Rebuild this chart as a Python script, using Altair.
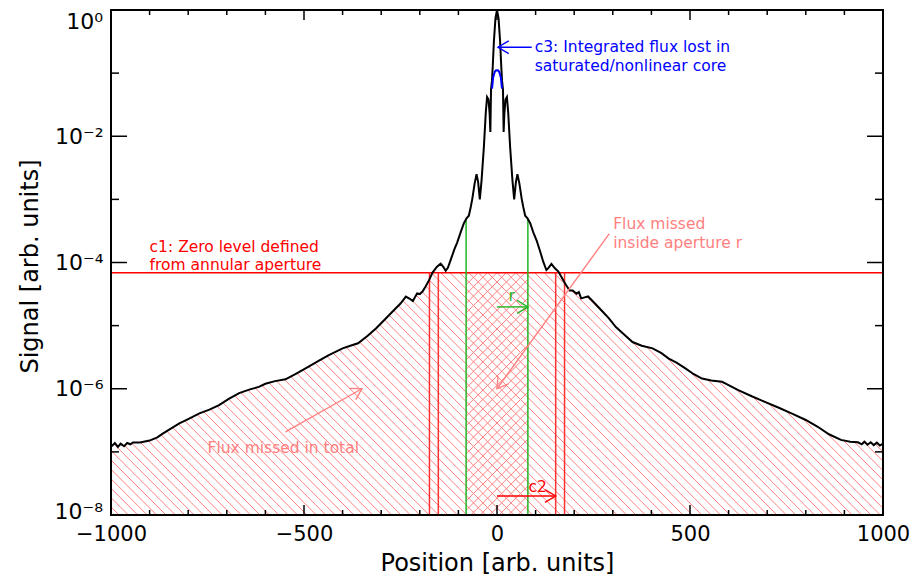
import math
import pandas as pd
import altair as alt

# ---------------- data ----------------
pos = [-1000, -990, -982, -975, -966, -958, -950, -943, -925, -900, -880, -866, -845, -823,
       -800, -771, -745, -720, -695, -668, -640, -617, -600, -575, -548, -520, -488, -460,
       -437, -400, -380, -360, -335, -313, -290, -266, -250, -236, -227, -218, -207, -200,
       -193, -185, -176, -167, -156, -146, -139, -133, -127, -120, -111, -103, -94, -86,
       -79, -73, -68, -64, -58, -53, -49, -44.5, -40, -34, -29, -25.7, -22, -19, -17.2,
       -15.5, -13, -11, -8, -4, 0,
       4, 8, 11, 13, 15.5, 17.2, 19, 22, 25.7, 29, 34, 40, 44.5, 49, 53, 58, 64, 68, 73,
       79, 86, 94, 103, 111, 120, 128, 134, 141, 150, 159, 167, 176, 188, 196, 206, 212,
       218, 227, 236, 255, 274, 290, 308, 330, 351, 375, 403, 425, 445, 465, 488, 510, 531,
       555, 583, 605, 625, 660, 694, 730, 763, 800, 831, 860, 891, 915, 935, 945, 952, 960,
       968, 976, 984, 992, 1000]
signal = [1.20e-7, 1.38e-7, 1.20e-7, 1.35e-7, 1.23e-7, 1.38e-7, 1.32e-7, 1.41e-7, 1.41e-7,
          1.51e-7, 1.70e-7, 1.95e-7, 2.34e-7, 2.82e-7, 3.31e-7, 4.07e-7, 4.68e-7, 5.50e-7,
          6.92e-7, 8.51e-7, 9.77e-7, 1.07e-6, 1.20e-6, 1.32e-6, 1.41e-6, 1.74e-6, 2.24e-6,
          2.82e-6, 3.39e-6, 4.37e-6, 4.79e-6, 5.25e-6, 6.92e-6, 9.12e-6, 1.26e-5, 1.78e-5,
          2.24e-5, 2.88e-5, 2.69e-5, 2.45e-5, 3.24e-5, 3.16e-5, 3.47e-5, 4.17e-5, 5.25e-5,
          6.92e-5, 8.51e-5, 9.55e-5, 8.51e-5, 7.41e-5, 8.32e-5, 1.10e-4, 1.58e-4, 2.09e-4,
          3.02e-4, 4.17e-4, 5.01e-4, 5.50e-4, 7.59e-4, 1.02e-3, 1.78e-3, 2.51e-3, 1.91e-3,
          1.00e-3, 2.00e-3, 6.76e-3, 2.40e-2, 4.17e-2, 3.80e-2, 2.24e-2, 1.17e-2,
          5.5e-2, 7.6e-2, 0.13, 0.32, 0.74, 1.0,
          0.74, 0.32, 0.13, 7.6e-2, 5.5e-2, 1.17e-2, 2.24e-2, 3.80e-2, 4.17e-2, 2.40e-2,
          6.76e-3, 2.0e-3, 1.0e-3, 1.9e-3, 2.5e-3, 1.78e-3, 1.02e-3, 7.6e-4, 5.5e-4,
          5.0e-4, 4.2e-4, 3.0e-4, 2.2e-4, 1.55e-4, 1.02e-4, 7.6e-5, 8.3e-5, 9.5e-5, 8.1e-5,
          7.2e-5, 5.9e-5, 4.7e-5, 3.6e-5, 3.6e-5, 3.2e-5, 3.4e-5, 2.7e-5, 2.8e-5, 2.9e-5,
          2.2e-5, 1.66e-5, 1.3e-5, 9.5e-6, 7.2e-6, 5.5e-6, 4.8e-6, 4.37e-6, 3.7e-6, 3.0e-6,
          2.6e-6, 2.1e-6, 1.7e-6, 1.45e-6, 1.35e-6, 1.29e-6, 1.1e-6, 9.5e-7, 7.6e-7, 6.2e-7,
          5.0e-7, 4.07e-7, 3.2e-7, 2.5e-7, 1.9e-7, 1.55e-7, 1.45e-7, 1.42e-7, 1.32e-7,
          1.45e-7, 1.30e-7, 1.42e-7, 1.28e-7, 1.40e-7, 1.26e-7, 1.35e-7]
assert len(pos) == len(signal)

core_pos = [-12.9, -10, -6, -3, 0, 3, 6, 10, 12.9]
core_signal = [0.057, 0.085, 0.104, 0.110, 0.111, 0.110, 0.104, 0.085, 0.057]

zero_level = 6.9e-5            # c1
c2_edges = [-175, -152, 152, 175]
aperture_edges = [-80, 80]     # r
aperture_top = 5.0e-4

x_label_values = [-1000, -500, 0, 500, 1000]
x_ticks_major = [-500, 0, 500]
x_ticks_minor = [-900, -800, -700, -600, -400, -300, -200, -100,
                 100, 200, 300, 400, 600, 700, 800, 900]
y_label_values = [1e-2, 1e-4, 1e-6]
y_label_texts = ["10⁻²", "10⁻⁴", "10⁻⁶"]
y_edge_values = [1.0, 1e-8]
y_edge_texts = ["10⁰", "10⁻⁸"]
y_edge_shift = [12, -3]
y_ticks_major = [1e-2, 1e-4, 1e-6]
y_ticks_minor = [1e-1, 1e-3, 1e-5, 1e-7]

ann_text = ["c1: Zero level defined", "from annular aperture",
            "c3: Integrated flux lost in", "saturated/nonlinear core",
            "Flux missed", "inside aperture r", "Flux missed in total", "r", "c2"]
ann_x = [-900, -900, 97.7, 97.7, 301, 301, -750, 30, 81.5]
ann_y = [1.79e-4, 9.29e-5, 0.2547, 0.132, 4.0e-4, 2.07e-4, 1.17e-7, 3.0e-5, 2.8e-8]
ann_color = ["#FF0000", "#FF0000", "#0000FF", "#0000FF", "#FF8080", "#FF8080",
             "#FF8080", "#22B422", "#FF0000"]

arr_x1 = [90, 0, 0, 291, -548]
arr_y1 = [0.257, 1.98e-5, 2.0e-8, 2.87e-4, 2.08e-7]
arr_x2 = [2.6, 80, 152, 0, -350]
arr_y2 = [0.257, 1.98e-5, 2.0e-8, 1.0e-6, 1.0e-6]
arr_color = ["#0000FF", "#22B422", "#FF0000", "#FF8080", "#FF8080"]

# ---------------- geometry helpers (plot area in px) ----------------
W, H = 772, 505
XMIN, XMAX = -1000, 1000
LMIN, LMAX = -8.0, 0.0
FONT = "DejaVu Sans"


def to_data(px, py):
    return XMIN + px / W * (XMAX - XMIN), 10 ** (LMAX - py / H * (LMAX - LMIN))


def to_px(x, y):
    return (x - XMIN) / (XMAX - XMIN) * W, (LMAX - math.log10(y)) / (LMAX - LMIN) * H


# hatch pattern (decorative fill), clipped to the region below the zero level
SP = 9.4
_, py_c1 = to_px(0, zero_level)
hatch = []
c = -W
while c < H:
    lo, hi = max(0.0, py_c1 - c), min(float(W), H - c)
    if hi - lo > 0.5:
        xa, ya = to_data(lo, lo + c)
        xb, yb = to_data(hi, hi + c)
        hatch.append((xa, ya, xb, yb))
    c += SP
pxl, _ = to_px(aperture_edges[0], 1)
pxr, _ = to_px(aperture_edges[1], 1)
c = 0.0
while c < W + H:
    lo, hi = max(pxl, c - H), min(pxr, c - py_c1)
    if hi - lo > 0.5:
        xa, ya = to_data(lo, c - lo)
        xb, yb = to_data(hi, c - hi)
        hatch.append((xa, ya, xb, yb))
    c += SP
df_hatch = pd.DataFrame(hatch, columns=["x", "y", "x2", "y2"])

df_curve = pd.DataFrame({"x": pos, "y": signal, "top": [1.0] * len(pos)})
df_core = pd.DataFrame({"x": core_pos, "y": core_signal})

xs = alt.Scale(domain=[XMIN, XMAX], nice=False, zero=False)
ys = alt.Scale(type="log", domain=[1e-8, 1], nice=False)

AX = alt.Axis(values=x_label_values, format="d", labelFlush=False, labelFontSize=21,
              labelPadding=8, titleY=55, titleBaseline="alphabetic")
y_expr = " : ".join(f"datum.value > {v / 3} ? '{t}'" for v, t in
                    zip(y_label_values[:-1], y_label_texts[:-1])) + f" : '{y_label_texts[-1]}'"
AY = alt.Axis(values=y_label_values, labelExpr=y_expr, labelPadding=8,
              titleX=-74, titleY=256, titleBaseline="alphabetic")
XT, YT = "Position [arb. units]", "Signal [arb. units]"


def X(f="x"):
    return alt.X(f"{f}:Q", scale=xs, title=XT, axis=AX)


def Y(f="y"):
    return alt.Y(f"{f}:Q", scale=ys, title=YT, axis=AY)


layers = []

# hatch
layers.append(alt.Chart(df_hatch).mark_rule(color="#FF8080", strokeWidth=1).encode(
    x=X(), y=Y(), x2="x2:Q", y2="y2:Q"))

# white cover above the curve
layers.append(alt.Chart(df_curve).mark_area(color="white", opacity=1).encode(
    x=X(), y=Y(), y2="top:Q"))

# c1 zero level line
layers.append(alt.Chart(pd.DataFrame({"y": [zero_level]})).mark_rule(
    color="#FF0000", strokeWidth=1.5).encode(y=Y(), x=alt.value(0), x2=alt.value(W)))

# c2 aperture box edges
df_c2 = pd.DataFrame({"x": c2_edges, "y": [1e-8] * 4, "y2": [zero_level] * 4})
layers.append(alt.Chart(df_c2).mark_rule(color="#FF3030", strokeWidth=1.5).encode(
    x=X(), y=Y(), y2="y2:Q"))

# aperture r lines
df_r = pd.DataFrame({"x": aperture_edges, "y": [1e-8] * 2, "y2": [aperture_top] * 2})
layers.append(alt.Chart(df_r).mark_rule(color="#22B422", strokeWidth=1.5).encode(
    x=X(), y=Y(), y2="y2:Q"))

# main profile
layers.append(alt.Chart(df_curve).mark_line(color="black", strokeWidth=2).encode(
    x=X(), y=Y()))

# saturated core (blue)
layers.append(alt.Chart(df_core).mark_line(color="#0000FF", strokeWidth=2).encode(
    x=X(), y=Y()))

# arrows
df_arr = pd.DataFrame({"x": arr_x1, "y": arr_y1, "x2": arr_x2, "y2": arr_y2,
                       "color": arr_color})
ang = []
for a, b, cc, d in zip(arr_x1, arr_y1, arr_x2, arr_y2):
    p1, q1 = to_px(a, b)
    p2, q2 = to_px(cc, d)
    ang.append(math.degrees(math.atan2(q2 - q1, p2 - p1)) % 360)
df_arr["angle"] = ang
layers.append(alt.Chart(df_arr).mark_rule(strokeWidth=1.4).encode(
    x=X(), y=Y(), x2="x2:Q", y2="y2:Q", color=alt.Color("color:N", scale=None)))
layers.append(alt.Chart(df_arr).mark_point(
    shape="M-1,-0.6L0,0L-1,0.6", filled=False, size=460, strokeWidth=1.4, opacity=1).encode(
    x=X("x2"), y=Y("y2"), angle=alt.Angle("angle:Q", scale=None),
    color=alt.Color("color:N", scale=None)))

# annotation texts
df_ann = pd.DataFrame({"x": ann_x, "y": ann_y, "text": ann_text, "color": ann_color})
layers.append(alt.Chart(df_ann).mark_text(
    align="left", baseline="middle", font=FONT, fontSize=15.5).encode(
    x=X(), y=Y(), text="text:N", color=alt.Color("color:N", scale=None)))

# inward ticks on all four sides
for vals, ln in ((x_ticks_major, 10), (x_ticks_minor, 5)):
    d = pd.DataFrame({"x": vals})
    layers.append(alt.Chart(d).mark_rule(color="black", strokeWidth=1.5).encode(
        x=X(), y=alt.value(H), y2=alt.value(H - ln)))
    layers.append(alt.Chart(d).mark_rule(color="black", strokeWidth=1.5).encode(
        x=X(), y=alt.value(0), y2=alt.value(ln)))
for vals, ln in ((y_ticks_major, 16), (y_ticks_minor, 8)):
    d = pd.DataFrame({"y": vals})
    layers.append(alt.Chart(d).mark_rule(color="black", strokeWidth=1.5).encode(
        y=Y(), x=alt.value(0), x2=alt.value(ln)))
    layers.append(alt.Chart(d).mark_rule(color="black", strokeWidth=1.5).encode(
        y=Y(), x=alt.value(W), x2=alt.value(W - ln)))

# frame
layers.append(alt.Chart(pd.DataFrame({"a": [0]})).mark_rect(
    fillOpacity=0, stroke="black", strokeWidth=2).encode(
    x=alt.value(0), x2=alt.value(W), y=alt.value(0), y2=alt.value(H)))

# end labels of the y axis (10^0 and 10^-8), nudged inward like the original
for v, t, s in zip(y_edge_values, y_edge_texts, y_edge_shift):
    layers.append(alt.Chart(pd.DataFrame({"y": [v], "t": [t]})).mark_text(
        align="right", baseline="middle", font=FONT, fontSize=22, dy=s,
        color="black").encode(y=Y(), x=alt.value(-8), text="t:N"))

chart = alt.layer(*layers).properties(
    width=W, height=H,
    autosize=alt.AutoSizeParams(type="none"),
    padding={"left": 103, "top": 2, "right": 28, "bottom": 60},
).configure_view(stroke=None).configure_axis(
    labelFont=FONT, labelFontSize=22, labelColor="black",
    titleFont=FONT, titleFontSize=24, titleFontWeight="normal", titleColor="black",
    ticks=False, tickSize=0, domain=False, grid=False,
)

chart.save("out.html", embed_options={"renderer": "svg", "actions": False})
